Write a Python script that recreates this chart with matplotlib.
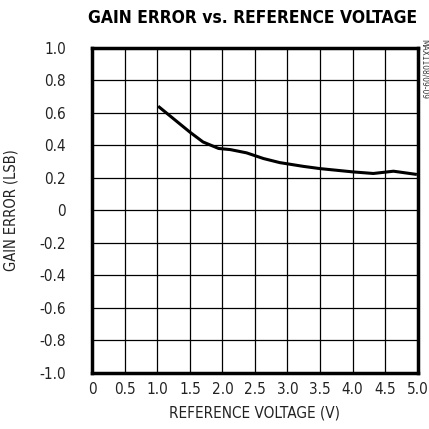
import numpy as np
import matplotlib.pyplot as plt

plt.rcParams['font.family'] = ['DejaVu Sans']
plt.rcParams['font.stretch'] = 'condensed'

vref = [1.01, 1.5, 1.7, 1.94, 2.12, 2.37, 2.63, 2.88, 3.24, 3.5, 4.0, 4.32, 4.63, 4.99]
gain_err = [0.64, 0.48, 0.42, 0.38, 0.373, 0.353, 0.318, 0.293, 0.27, 0.256, 0.236, 0.226, 0.24, 0.22]

xticks = [0, 0.5, 1.0, 1.5, 2.0, 2.5, 3.0, 3.5, 4.0, 4.5, 5.0]
xlabels = ["0", "0.5", "1.0", "1.5", "2.0", "2.5", "3.0", "3.5", "4.0", "4.5", "5.0"]
yticks = [-1.0, -0.8, -0.6, -0.4, -0.2, 0, 0.2, 0.4, 0.6, 0.8, 1.0]
ylabels = ["-1.0", "-0.8", "-0.6", "-0.4", "-0.2", "0", "0.2", "0.4", "0.6", "0.8", "1.0"]

fig = plt.figure(figsize=(4.29, 4.29), dpi=100)
ax = fig.add_axes([0.2156, 0.1312, 0.7576, 0.7576])
ax.plot(vref, gain_err, color='black', linewidth=2.2, solid_capstyle='butt')
ax.set_xlim(0, 5)
ax.set_ylim(-1, 1)
ax.set_xticks(xticks)
ax.set_xticklabels(xlabels)
ax.set_yticks(yticks)
ax.set_yticklabels(ylabels)
ax.tick_params(axis='y', length=0, labelsize=11, pad=19, labelcolor='#222222')
ax.tick_params(axis='x', length=0, labelsize=11, pad=7, labelcolor='#222222')
ax.grid(True, color='black', linewidth=0.9)
for s in ax.spines.values():
    s.set_linewidth(2.5)
ax.set_xlabel("REFERENCE VOLTAGE (V)", fontsize=11, labelpad=6, color='#222222')
ax.set_ylabel("GAIN ERROR (LSB)", fontsize=10.5, labelpad=15, color='#222222')
fig.text(0.588, 0.957, "GAIN ERROR vs. REFERENCE VOLTAGE", ha='center', va='center',
         fontsize=12.5, fontweight='bold')
fig.text(0.99, 0.84, "MAX1108/09-09", rotation=270, ha='center', va='center', fontsize=6, color='#333333')

plt.savefig("out.png", dpi=100)
